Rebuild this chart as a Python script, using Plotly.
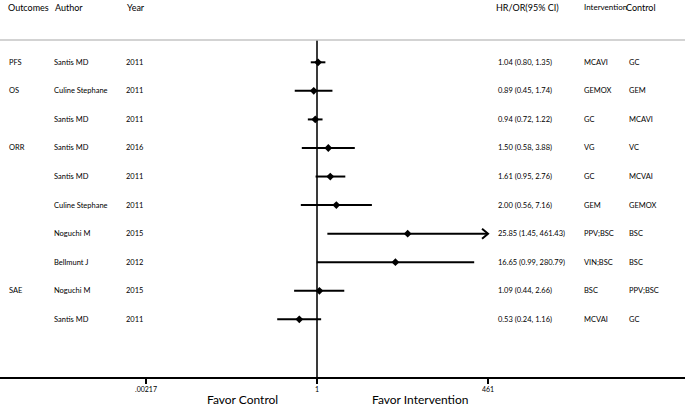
import plotly.graph_objects as go

outcomes = ["PFS", "OS", "", "ORR", "", "", "", "", "SAE", ""]
authors = ["Santis MD", "Culine Stephane", "Santis MD", "Santis MD", "Santis MD",
           "Culine Stephane", "Noguchi M", "Bellmunt J", "Noguchi M", "Santis MD"]
years = ["2011", "2011", "2011", "2016", "2011", "2011", "2015", "2012", "2015", "2011"]
est = [1.04, 0.89, 0.94, 1.50, 1.61, 2.00, 25.85, 16.65, 1.09, 0.53]
lo = [0.80, 0.45, 0.72, 0.58, 0.95, 0.56, 1.45, 0.99, 0.44, 0.24]
hi = [1.35, 1.74, 1.22, 3.88, 2.76, 7.16, 461.43, 280.79, 2.66, 1.16]
intervention = ["MCAVI", "GEMOX", "GC", "VG", "GC", "GEM", "PPV;BSC", "VIN;BSC", "BSC", "MCVAI"]
control = ["GC", "GEM", "MCAVI", "VC", "MCVAI", "GEMOX", "BSC", "BSC", "PPV;BSC", "GC"]
tick_vals = [0.00217, 1, 461]
tick_text = [".00217", "1", "461"]
headers = ["Outcomes", "Author", "Year", "HR/OR(95% CI)", "Intervention", "Control"]

W, H = 685, 406
PLOT_H = 377
PX_PER_DEC = 64.2
ROW0, ROW_STEP = 62.3, 28.56

def row_of(py):
    return (py - ROW0) / ROW_STEP

rows = list(range(len(authors)))
FONT = "Lato"

fig = go.Figure()

# reference line at 1
fig.add_trace(go.Scatter(x=[1, 1], y=[row_of(40), row_of(PLOT_H)], mode="lines",
                         line=dict(color="#3a3a3a", width=2), hoverinfo="skip", showlegend=False))

# CI lines
cx, cy = [], []
for i in rows:
    cx += [lo[i], hi[i], None]
    cy += [i, i, None]
fig.add_trace(go.Scatter(x=cx, y=cy, mode="lines", line=dict(color="black", width=2),
                         hoverinfo="skip", showlegend=False))

# arrow head on the truncated CI
ai = hi.index(max(hi))
back = 10 ** (-6 / PX_PER_DEC)
dy = 5 / ROW_STEP
fig.add_trace(go.Scatter(x=[hi[ai] * back, hi[ai], hi[ai] * back], y=[ai - dy, ai, ai + dy],
                         mode="lines", line=dict(color="black", width=2), hoverinfo="skip",
                         showlegend=False))

# point estimates
fig.add_trace(go.Scatter(x=est, y=rows, mode="markers",
                         marker=dict(symbol="diamond", size=6, color="black"),
                         showlegend=False))

ann = []
def txt(xp, y, s, size, yref="y"):
    ann.append(dict(x=xp / W, xref="paper", y=y, yref=yref, text=s, showarrow=False,
                    xanchor="left", yanchor="middle",
                    font=dict(family=FONT, size=size, color="black")))

hx = [6, 53, 125, 494, 582, 624]
hsize = [9, 9, 9, 9, 8, 9]
for xp, s, fs in zip(hx, headers, hsize):
    txt(xp, row_of(7), s, fs)

for i in rows:
    txt(7, i, outcomes[i], 7.5)
    txt(52, i, authors[i], 7.5)
    txt(124, i, years[i], 7.5)
    txt(496, i, f"{est[i]:.2f} ({lo[i]:.2f}, {hi[i]:.2f})", 7.5)
    txt(582, i, intervention[i], 7.5)
    txt(627, i, control[i], 7.5)

for xc, s in [(242, "Favor Control"), (420, "Favor Intervention")]:
    ann.append(dict(x=xc / W, xref="paper", y=-(399.5 - PLOT_H) / PLOT_H, yref="paper",
                    text=s, showarrow=False, xanchor="center", yanchor="middle",
                    font=dict(family=FONT, size=12, color="black")))

x_left = -317 / PX_PER_DEC
x_right = (W - 317) / PX_PER_DEC

fig.update_layout(
    width=W, height=H, margin=dict(l=0, r=0, t=0, b=H - PLOT_H),
    plot_bgcolor="white", paper_bgcolor="white",
    annotations=ann,
    shapes=[dict(type="line", xref="paper", x0=0, x1=1, yref="y", y0=row_of(40), y1=row_of(40),
                 line=dict(color="#c4c4c4", width=1.5))],
    xaxis=dict(type="log", range=[x_left, x_right], showgrid=False, zeroline=False,
               showline=True, linecolor="black", linewidth=1.5,
               tickvals=tick_vals, ticktext=tick_text, ticks="outside", ticklen=5,
               tickcolor="black", tickwidth=1.5,
               tickfont=dict(family=FONT, size=7, color="black")),
    yaxis=dict(range=[row_of(PLOT_H), row_of(0)], visible=False, showgrid=False, zeroline=False),
)

fig.write_html("out.html", config={"displayModeBar": False},
               post_script="document.body.style.margin='0';document.body.style.overflow='hidden';")
